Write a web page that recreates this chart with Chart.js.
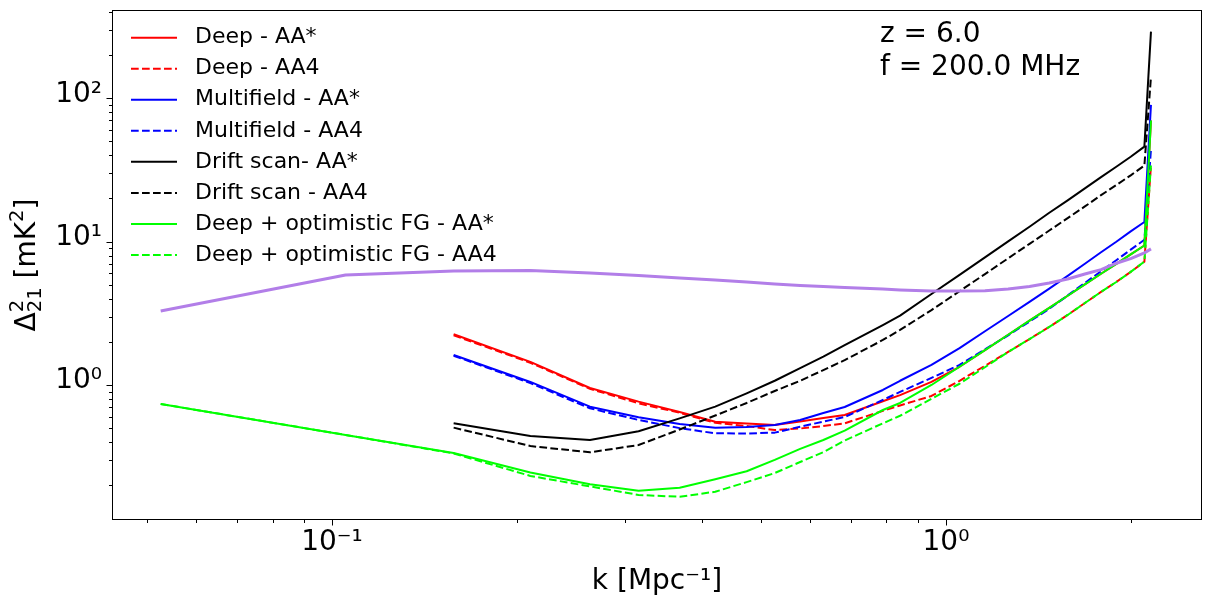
<!DOCTYPE html>
<html>
<head>
<meta charset="utf-8">
<script src="https://cdn.jsdelivr.net/npm/chart.js@4.4.1/dist/chart.umd.min.js"></script>
<style>
  html, body { margin: 0; padding: 0; background: #fff; }
  #wrap { width: 1211px; height: 611px; position: relative; }
</style>
</head>
<body>
<div id="wrap"><canvas id="grafico"></canvas></div>
<script>
// k (Mpc^-1) donde se leyeron los valores
const kValues = [0.0526, 0.1052, 0.1578, 0.2104, 0.2631, 0.3157, 0.3683, 0.4209, 0.4735, 0.5261, 0.5787,
  0.6313, 0.6839, 0.7892, 0.8418, 0.9470, 1.0522, 1.1574, 1.2626, 1.3678, 1.4731, 1.5783, 1.6835,
  1.7887, 1.8940, 1.9992, 2.1044, 2.1570];

// Delta^2_21 [mK^2]
const deepAAstar = [null, null, 2.26, 1.45, 0.953, 0.765, 0.648, 0.554, 0.538, 0.526, 0.556,
  0.588, 0.618, 0.77, 0.85, 1.05, 1.34, 1.75, 2.24, 2.81, 3.45, 4.19, 5.03,
  5.97, 7.0, 8.15, 9.4, 70];
const deepAA4 = [null, null, 2.22, 1.43, 0.94, 0.745, 0.64, 0.545, 0.517, 0.485, 0.497,
  0.517, 0.54, 0.66, 0.72, 0.838, 1.07, 1.36, 1.70, 2.09, 2.54, 3.08, 3.73,
  4.46, 5.23, 6.15, 7.25, 34];
const multiAAstar = [null, null, 1.62, 1.05, 0.706, 0.595, 0.534, 0.504, 0.509, 0.526, 0.57,
  0.638, 0.702, 0.923, 1.07, 1.38, 1.81, 2.37, 3.03, 3.80, 4.70, 5.77, 7.01,
  8.44, 9.98, 11.8, 13.7, 90];
const multiAA4 = [null, null, 1.60, 1.03, 0.688, 0.57, 0.50, 0.46, 0.459, 0.465, 0.512,
  0.555, 0.598, 0.786, 0.894, 1.12, 1.38, 1.77, 2.22, 2.77, 3.40, 4.21, 5.15,
  6.22, 7.42, 8.79, 10.3, 44];
const driftAAstar = [null, null, 0.540, 0.441, 0.413, 0.476, 0.585, 0.706, 0.874, 1.07, 1.31,
  1.576, 1.90, 2.62, 3.05, 4.31, 5.86, 7.77, 10.05, 12.7, 15.9, 19.4, 23.5,
  28.2, 33.3, 39.1, 46.0, 292];
const driftAA4 = [null, null, 0.504, 0.375, 0.339, 0.381, 0.489, 0.612, 0.749, 0.908, 1.07,
  1.27, 1.49, 2.06, 2.42, 3.33, 4.51, 5.94, 7.65, 9.65, 11.95, 14.6, 17.6,
  21.1, 24.8, 29.0, 33.9, 141];
const optAAstar = [0.737, 0.448, 0.335, 0.245, 0.203, 0.183, 0.192, 0.22, 0.25, 0.30, 0.358,
  0.413, 0.48, 0.669, 0.749, 1.0, 1.34, 1.75, 2.24, 2.81, 3.45, 4.19, 5.03,
  5.97, 7.0, 8.15, 9.4, 70];
const optAA4 = [0.737, 0.448, 0.333, 0.232, 0.196, 0.171, 0.166, 0.18, 0.21, 0.243, 0.29,
  0.34, 0.41, 0.54, 0.61, 0.80, 1.02, 1.33, 1.70, 2.09, 2.54, 3.08, 3.73,
  4.46, 5.23, 6.15, 7.25, 34];
const signal21 = [3.28, 5.86, 6.24, 6.3, 6.04, 5.80, 5.58, 5.39, 5.23, 5.06, 4.94,
  4.87, 4.79, 4.67, 4.6, 4.52, 4.52, 4.55, 4.67, 4.87, 5.14, 5.49, 5.95,
  6.38, 7.07, 7.62, 8.34, 8.9];

// ticks
const xTickValues = [0.1, 1];
const xTickLabels = ["10⁻¹", "10⁰"];
const yTickValues = [1, 10, 100];
const yTickLabels = ["10⁰", "10¹", "10²"];

const FONT = "DejaVu Sans";
const DASH = [7.7, 3.3];

function serie(label, valores, color, dashed, orden) {
  return {
    label: label,
    data: kValues.map((k, i) => ({ x: k, y: valores[i] })),
    borderColor: color,
    borderWidth: 2,
    borderDash: dashed ? DASH : [],
    order: orden,
    fill: false
  };
}

const datasets = [
  serie("Deep - AA*", deepAAstar, "#ff0000", false, 9),
  serie("Deep - AA4", deepAA4, "#ff0000", true, 8),
  serie("Multifield - AA*", multiAAstar, "#0000ff", false, 7),
  serie("Multifield - AA4", multiAA4, "#0000ff", true, 6),
  serie("Drift scan- AA*", driftAAstar, "#000000", false, 5),
  serie("Drift scan - AA4", driftAA4, "#000000", true, 4),
  serie("Deep + optimistic FG - AA*", optAAstar, "#00ff00", false, 3),
  serie("Deep + optimistic FG - AA4", optAA4, "#00ff00", true, 2),
  {
    label: "",
    data: kValues.map((k, i) => ({ x: k, y: signal21[i] })),
    borderColor: "#b27ee8",
    borderWidth: 3,
    order: 1,
    fill: false
  }
];

// texto con super/subindices: [texto, tamaño relativo, desplazamiento (em), avanza]
function dibujarPartes(ctx, partes, x, y, size) {
  let ancho = 0;
  partes.forEach(p => {
    ctx.font = (size * p[1]) + "px '" + FONT + "'";
    const w = ctx.measureText(p[0]).width;
    if (p[3] !== false) ancho += w;
  });
  let cx = x - ancho / 2;
  partes.forEach(p => {
    ctx.font = (size * p[1]) + "px '" + FONT + "'";
    ctx.fillText(p[0], cx, y + p[2] * size);
    if (p[3] !== false) cx += ctx.measureText(p[0]).width;
  });
}

// marco, ticks mayores y menores, leyenda y texto
const marcoPlugin = {
  id: "marco",
  afterDraw(chart) {
    const ctx = chart.ctx;
    const a = chart.chartArea;
    ctx.save();
    ctx.strokeStyle = "#000";
    ctx.lineWidth = 1;
    ctx.strokeRect(a.left + 0.5, a.top + 0.5, a.right - a.left - 1, a.bottom - a.top - 1);

    const sx = chart.scales.x, sy = chart.scales.y;
    for (let e = Math.floor(Math.log10(sx.min)); e <= Math.ceil(Math.log10(sx.max)); e++) {
      for (let m = 1; m <= 9; m++) {
        const v = m * Math.pow(10, e);
        if (v < sx.min || v > sx.max) continue;
        const px = Math.round(sx.getPixelForValue(v)) + 0.5;
        ctx.beginPath();
        ctx.moveTo(px, a.bottom);
        ctx.lineTo(px, a.bottom + (m === 1 ? 5.5 : 3));
        ctx.stroke();
      }
    }
    for (let e = Math.floor(Math.log10(sy.min)); e <= Math.ceil(Math.log10(sy.max)); e++) {
      for (let m = 1; m <= 9; m++) {
        const v = m * Math.pow(10, e);
        if (v < sy.min || v > sy.max) continue;
        const py = Math.round(sy.getPixelForValue(v)) + 0.5;
        ctx.beginPath();
        ctx.moveTo(a.left, py);
        ctx.lineTo(a.left - (m === 1 ? 5.5 : 3), py);
        ctx.stroke();
      }
    }

    // leyenda
    ctx.font = "22px '" + FONT + "'";
    ctx.textBaseline = "middle";
    ctx.fillStyle = "#000";
    let fila = 0;
    chart.data.datasets.forEach(ds => {
      if (!ds.label) return;
      const y = a.top + 27.7 + fila * 31.04;
      const x0 = a.left + 19;
      ctx.beginPath();
      ctx.strokeStyle = ds.borderColor;
      ctx.lineWidth = ds.borderWidth;
      ctx.setLineDash(ds.borderDash || []);
      ctx.moveTo(x0, y);
      ctx.lineTo(x0 + 46, y);
      ctx.stroke();
      ctx.setLineDash([]);
      ctx.fillText(ds.label, x0 + 64, y);
      fila++;
    });

    ctx.font = "28px '" + FONT + "'";
    ctx.textBaseline = "alphabetic";
    ctx.fillText("z = 6.0", 880, 42);
    ctx.fillText("f = 200.0 MHz", 880, 75);

    // titulo eje y
    ctx.save();
    ctx.translate(35, (a.top + a.bottom) / 2);
    ctx.rotate(-Math.PI / 2);
    dibujarPartes(ctx, [
      ["Δ", 1, 0],
      ["2", 0.7, -0.42, false],
      ["21", 0.7, 0.2],
      [" [mK", 1, 0],
      ["2", 0.7, -0.42],
      ["]", 1, 0]
    ], 0, 0, 28);
    ctx.restore();
    ctx.restore();
  }
};

const ctx = document.getElementById("grafico").getContext("2d");
window.grafico = new Chart(ctx, {
  type: "line",
  data: { datasets: datasets },
  options: {
    responsive: true,
    maintainAspectRatio: false,
    animation: false,
    layout: { padding: { top: 10, right: 9, left: 0, bottom: 0 } },
    elements: { point: { radius: 0 }, line: { tension: 0, borderJoinStyle: "round" } },
    plugins: { legend: { display: false }, tooltip: { enabled: false } },
    scales: {
      x: {
        type: "logarithmic",
        min: 0.04382,
        max: 2.612,
        bounds: "data",
        grid: { display: false, drawTicks: false },
        border: { display: false },
        afterBuildTicks: s => { s.ticks = xTickValues.map(v => ({ value: v })); },
        afterFit: s => { s.height = 91; s.paddingLeft = 0; s.paddingRight = 0; },
        ticks: {
          autoSkip: false,
          maxRotation: 0,
          padding: 6,
          color: "#000",
          font: { family: FONT, size: 28 },
          callback: (v, i) => xTickLabels[i]
        },
        title: {
          display: true,
          text: "k [Mpc⁻¹]",
          color: "#000",
          font: { family: FONT, size: 28 },
          padding: { top: 0, bottom: 12 }
        }
      },
      y: {
        type: "logarithmic",
        min: 0.1143,
        max: 413,
        bounds: "data",
        grid: { display: false, drawTicks: false },
        border: { display: false },
        afterBuildTicks: s => { s.ticks = yTickValues.map(v => ({ value: v })); },
        afterFit: s => { s.width = 112; s.paddingTop = 0; s.paddingBottom = 0; },
        ticks: {
          autoSkip: false,
          padding: 10,
          labelOffset: -4,
          color: "#000",
          font: { family: FONT, size: 28 },
          callback: (v, i) => yTickLabels[i]
        },
        title: { display: false }
      }
    }
  },
  plugins: [marcoPlugin]
});
</script>
</body>
</html>
